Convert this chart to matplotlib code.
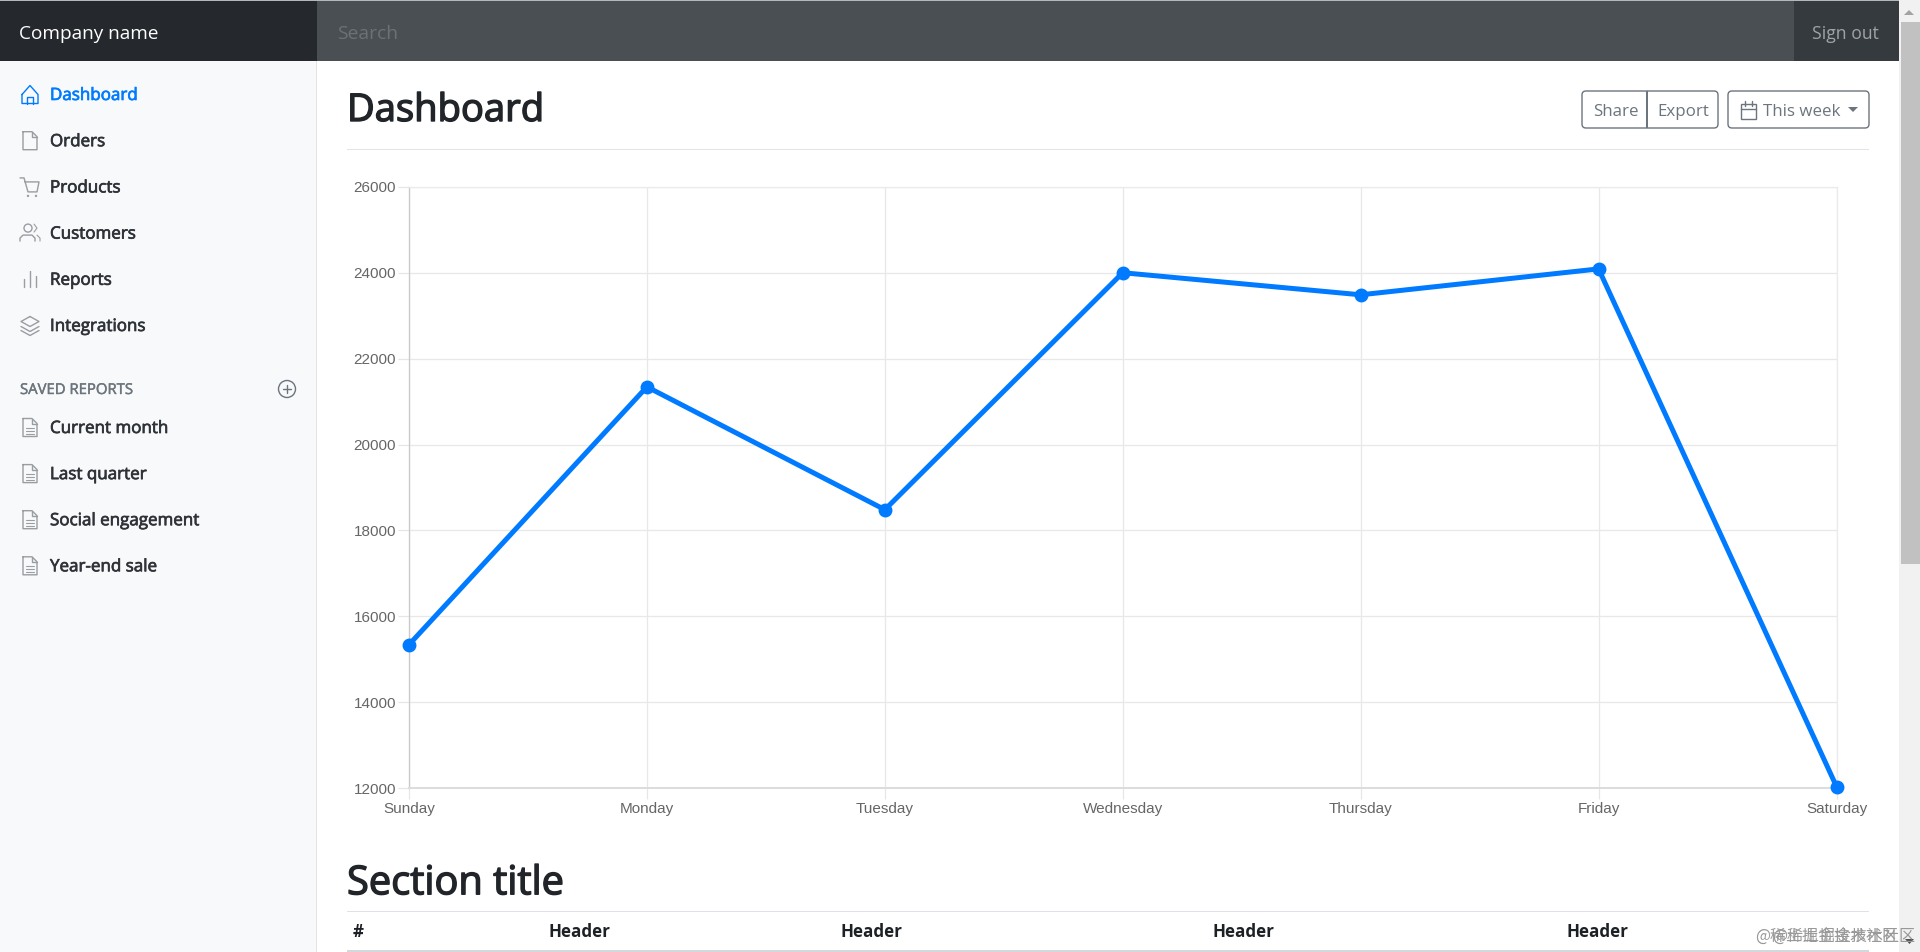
import matplotlib
matplotlib.use("Agg")
import matplotlib.pyplot as plt
import matplotlib.patheffects as pe
from matplotlib.patches import Rectangle, FancyBboxPatch, Circle, Polygon

# chart data
days = ["Sunday", "Monday", "Tuesday", "Wednesday", "Thursday", "Friday", "Saturday"]
visits = [15339, 21345, 18483, 24003, 23489, 24092, 12034]
y_ticks = [12000, 14000, 16000, 18000, 20000, 22000, 24000, 26000]

# page text
nav_items = ["Dashboard", "Orders", "Products", "Customers", "Reports", "Integrations"]
saved_items = ["Current month", "Last quarter", "Social engagement", "Year-end sale"]
table_headers = ["#", "Header", "Header", "Header", "Header"]

UI_FONT = "Open Sans"
W, H = 1920, 952
fig = plt.figure(figsize=(W / 100, H / 100), dpi=100, facecolor="white")

# page axes in pixel coordinates, y going down
page = fig.add_axes([0, 0, 1, 1])
page.set_xlim(0, W)
page.set_ylim(H, 0)
page.axis("off")


def px(size):
    return size * 0.72


def rect(x0, y0, x1, y1, color):
    page.add_patch(Rectangle((x0, y0), x1 - x0, y1 - y0, fc=color, ec="none"))


def seg(points, color="#8a8f94", lw=1.4):
    xs, ys = zip(*points)
    page.plot(xs, ys, color=color, lw=px(lw), solid_capstyle="round",
              solid_joinstyle="round")


def label(x, y, s, size, color="#212529", weight="normal", ha="left", font=UI_FONT, thick=0):
    t = page.text(x, y, s, fontsize=px(size), color=color, fontweight=weight, ha=ha,
                  va="center", family=font)
    # fake a medium weight, the font only has regular and bold
    if thick:
        t.set_path_effects([pe.withStroke(linewidth=thick, foreground=color)])
    return t


def button(x0, x1, y0=91, y1=128):
    page.add_patch(FancyBboxPatch((x0 + 3, y0 + 3), x1 - x0 - 6, y1 - y0 - 6,
                                  boxstyle="round,pad=3,rounding_size=4",
                                  fc="white", ec="#6c757d", lw=px(1.4)))


# page backgrounds
rect(0, 61, 316, H, "#f8f9fa")
rect(316, 61, 317, H, "#e2e3e5")
rect(0, 0, 317, 61, "#25292e")
rect(317, 0, 1794, 61, "#4a4f54")
rect(1794, 0, 1899, 61, "#353a3f")
rect(0, 0, 1899, 1, "#b5b7b9")

# scrollbar
rect(1899, 0, 1920, H, "#f1f1f1")
rect(1901, 22, 1920, 564, "#c1c1c1")
page.add_patch(Polygon([(1904, 15), (1914, 15), (1909, 10)], fc="#a3a3a3", ec="none"))
page.add_patch(Polygon([(1905, 939), (1914, 939), (1909.5, 944)], fc="#505050", ec="none"))

# navbar
label(19, 34, "Company name", 19, color="white")
label(337, 34, "Search", 19.3, color="#6c7176")
label(1879, 34, "Sign out", 17.6, color="#a0a3a6", ha="right")


# sidebar icons
def icon_home(x, y, c):
    seg([(x - 8, y), (x, y - 9), (x + 8, y), (x + 8, y + 9), (x - 8, y + 9), (x - 8, y)], c)
    seg([(x - 3, y + 9), (x - 3, y + 2), (x + 3, y + 2), (x + 3, y + 9)], c)


def icon_file(x, y, c):
    seg([(x - 7, y - 9), (x + 2, y - 9), (x + 7, y - 4), (x + 7, y + 9), (x - 7, y + 9), (x - 7, y - 9)], c)
    seg([(x + 2, y - 9), (x + 2, y - 4), (x + 7, y - 4)], c)


def icon_doc(x, y, c):
    icon_file(x, y, c)
    for dy in (0, 3.5, 6.5):
        seg([(x - 4, y + dy), (x + 4, y + dy)], c, 1.1)


def icon_cart(x, y, c):
    seg([(x - 10, y - 9), (x - 6, y - 9), (x - 2, y + 5), (x + 7, y + 5), (x + 9, y - 5), (x - 5, y - 5)], c)
    page.add_patch(Circle((x - 2, y + 9), 1.2, fc=c, ec="none"))
    page.add_patch(Circle((x + 6, y + 9), 1.2, fc=c, ec="none"))


def icon_users(x, y, c):
    page.add_patch(Circle((x - 2, y - 5), 4, fc="none", ec=c, lw=px(1.4)))
    seg([(x - 10, y + 8), (x - 10, y + 5), (x - 7, y + 2), (x + 2, y + 2), (x + 5, y + 5), (x + 5, y + 8)], c)
    seg([(x + 4, y - 9), (x + 7, y - 5), (x + 4, y - 1)], c, 1.1)
    seg([(x + 7, y + 2), (x + 10, y + 5), (x + 10, y + 8)], c, 1.1)


def icon_bars(x, y, c):
    seg([(x - 6, y + 8), (x - 6, y)], c)
    seg([(x, y + 8), (x, y - 8)], c)
    seg([(x + 6, y + 8), (x + 6, y - 3)], c)


def icon_layers(x, y, c):
    seg([(x, y - 9), (x + 9, y - 4), (x, y + 1), (x - 9, y - 4), (x, y - 9)], c)
    seg([(x - 9, y + 1), (x, y + 6), (x + 9, y + 1)], c)
    seg([(x - 9, y + 5), (x, y + 10), (x + 9, y + 5)], c)


nav_icons = [icon_home, icon_file, icon_cart, icon_users, icon_bars, icon_layers]
for i, (name, draw_icon) in enumerate(zip(nav_items, nav_icons)):
    y = 94.5 + i * 46.2
    active = i == 0
    draw_icon(30, y, "#007bff" if active else "#9a9ea2")
    label(50, y + 1.5, name, 17, color="#007bff" if active else "#2f3338", thick=0.5)

label(20, 390.5, "SAVED REPORTS", 14.9, color="#6c757d", thick=0.3)
page.add_patch(Circle((287, 389), 8.5, fc="none", ec="#6c757d", lw=px(1.4)))
seg([(287, 385), (287, 393)], "#6c757d")
seg([(283, 389), (291, 389)], "#6c757d")

for i, name in enumerate(saved_items):
    y = 427.5 + i * 46.1
    icon_doc(30, y, "#9a9ea2")
    label(50, y + 1.5, name, 17, color="#2f3338", thick=0.5)

# heading row, one outlined group with a divider plus the dropdown button
label(347, 111, "Dashboard", 38.2, thick=1.0)
button(1582, 1718)
rect(1646, 91, 1648, 128, "#6c757d")
button(1728, 1869)
label(1593, 112, "Share", 16.9, color="#6c757d")
label(1657, 112, "Export", 16.9, color="#6c757d")
label(1763, 112, "This week", 16.9, color="#6c757d")
page.add_patch(Rectangle((1741, 104), 15, 15, fc="none", ec="#6c757d", lw=px(1.4)))
seg([(1741, 109), (1756, 109)], "#6c757d")
seg([(1745, 101), (1745, 106)], "#6c757d")
seg([(1752, 101), (1752, 106)], "#6c757d")
page.add_patch(Polygon([(1848, 107), (1858, 107), (1853, 112)], fc="#6c757d", ec="none"))
rect(347, 148.5, 1869, 149.5, "#e3e4e6")

# section title and table header
label(347, 884, "Section title", 39.8, thick=1.0)
rect(347, 911, 1869, 912, "#dee2e6")
rect(347, 950, 1869, 952, "#d5d8db")
for x, s, ha in zip([353, 579, 871, 1244, 1597], table_headers,
                    ["left", "center", "center", "center", "center"]):
    label(x, 932, s, 17, weight="bold", ha=ha, color="#1d2125")

# watermark, two copies on top of each other as in the screenshot
label(1755, 937, "@稀土掘金技术社区", 16, color="#999999", font="Noto Sans CJK SC")
label(1915, 937, "@稀土掘金技术社区", 16, color="#999999", ha="right", font="Noto Sans CJK SC")

# line chart
ax = fig.add_axes([409 / W, 1 - 788 / H, (1836.5 - 409) / W, (788 - 187) / H])
ax.patch.set_alpha(0)
ax.plot(range(len(days)), visits, color="#007bff", lw=px(5), marker="o",
        markersize=px(12.5), clip_on=False, zorder=5, solid_joinstyle="miter")
ax.set_xlim(0, len(days) - 1)
ax.set_ylim(y_ticks[0], y_ticks[-1])
ax.set_xticks(range(len(days)))
ax.set_xticklabels(days)
ax.set_yticks(y_ticks)
ax.grid(True, color="#e8e8e8", lw=px(1.3))
ax.tick_params(axis="both", length=px(11), width=px(1.2), color="#e6e6e6",
               labelcolor="#666666", labelsize=px(15.2), pad=0)
ax.tick_params(axis="x", pad=px(3))
ax.tick_params(axis="y", pad=px(2))
for tick in ax.get_xticklabels() + ax.get_yticklabels():
    tick.set_family("Liberation Sans")
for side in ["top", "right"]:
    ax.spines[side].set_color("#ebebeb")
    ax.spines[side].set_linewidth(px(1.3))
ax.spines["left"].set_color("#c9c9c9")
ax.spines["left"].set_linewidth(px(1.3))
ax.spines["bottom"].set_color("#dcdcdc")
ax.spines["bottom"].set_linewidth(px(2))

fig.savefig("out.png", dpi=100, facecolor="white")
